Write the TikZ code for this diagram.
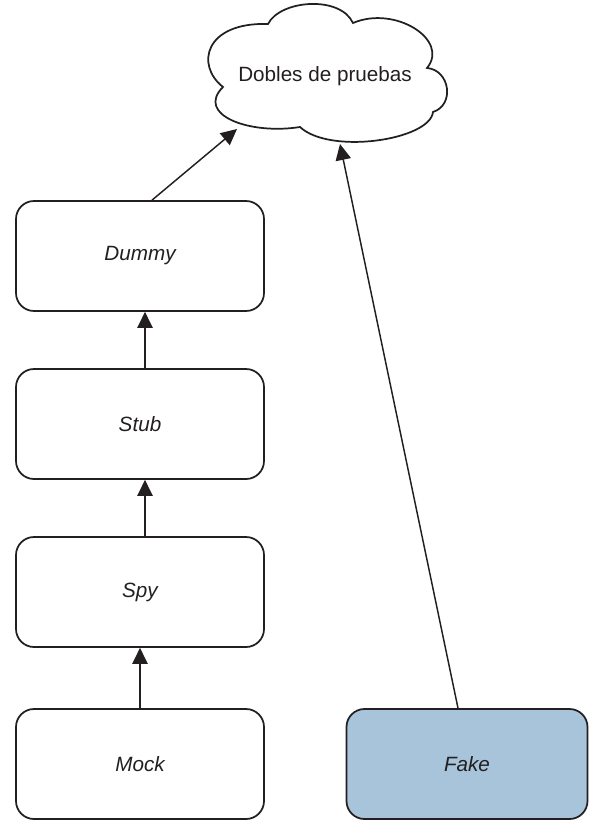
\documentclass[tikz,border=0pt]{standalone}
\usepackage{fontspec}
\setmainfont{Liberation Sans}
\usetikzlibrary{arrows.meta}
\definecolor{fakeblue}{HTML}{A7C4DA}
\definecolor{ink}{HTML}{231F20}
\begin{document}
\begin{tikzpicture}[x=0.75pt,y=-0.75pt,
  box/.style={draw=ink, line width=1.3pt, rounded corners=13.5pt, minimum width=186pt, minimum height=82.5pt, inner sep=0pt, font=\fontsize{15.5}{18}\selectfont\itshape, text=ink},
  conn/.style={draw=ink, line width=1.1pt, -{Triangle[length=12pt,width=11.5pt]}}]
\useasboundingbox (0,0) rectangle (589,820);
% cloud
\draw[ink, line width=1.3pt] (223,87) .. controls (195,65) and (205,22) .. (268,24)
  .. controls (280,0) and (340,-5) .. (353,23)
  .. controls (395,5) and (450,40) .. (427,68)
  .. controls (450,70) and (455,105) .. (433,112)
  .. controls (430,140) and (330,155) .. (300,127)
  .. controls (250,135) and (195,115) .. (223,87) -- cycle;
\node[font=\fontsize{15.5}{18}\selectfont, text=ink] (cloud) at (325,76) {Dobles de pruebas};
\coordinate (cl1) at (237,129);
\coordinate (cl2) at (340,144);
% boxes
\node[box] (dummy) at (140,256) {Dummy};
\node[box] (stub) at (140,424) {Stub};
\node[box] (spy) at (140,592) {Spy};
\node[box] (mock) at (140,764) {Mock};
\node[box, fill=fakeblue, minimum width=180.75pt] (fake) at (467,764) {Fake};
% connectors
\draw[conn] ([xshift=9pt]dummy.north) -- (cl1);
\draw[conn] ([xshift=3.75pt]stub.north) -- ([xshift=3.75pt]dummy.south);
\draw[conn] ([xshift=3.75pt]spy.north) -- ([xshift=3.75pt]stub.south);
\draw[conn] (mock.north) -- (spy.south);
\draw[conn] ([xshift=-6.75pt]fake.north) -- (cl2);
\end{tikzpicture}
\end{document}
